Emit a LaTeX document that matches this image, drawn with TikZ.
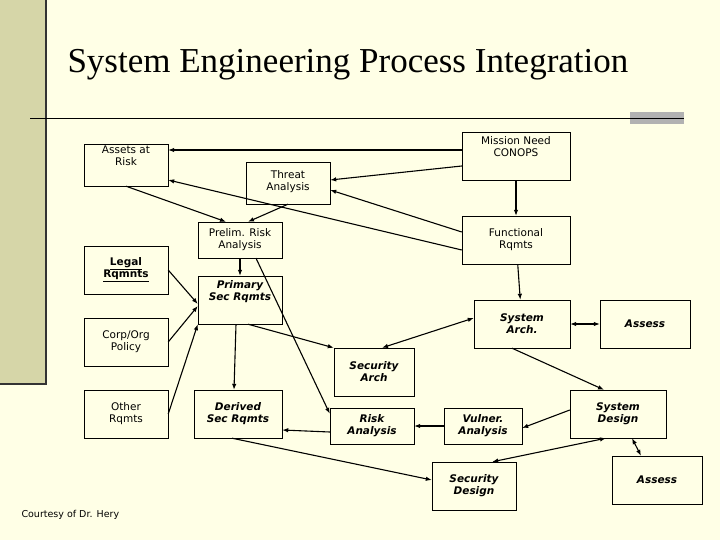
\documentclass[tikz,border=0pt]{standalone}
\usepackage{fontspec}
\setmainfont{DejaVu Sans}
\newfontfamily\titlefont{Liberation Serif}
\usetikzlibrary{arrows.meta}
\definecolor{cream}{HTML}{FFFFE6}
\definecolor{olive}{HTML}{D6D6A8}
\tikzset{blk/.style={draw, fill=cream, align=center, font=\fontsize{10.5}{12}\selectfont, inner sep=0pt},
         bblk/.style={blk, font=\fontsize{10.5}{12}\selectfont\bfseries\itshape},
         line/.style={line width=1.1pt, -{Latex[length=6pt,width=4.5pt]}},
         dline/.style={line width=1.1pt, {Latex[length=6pt,width=4.5pt]}-{Latex[length=6pt,width=4.5pt]}}}

\begin{document}
\begin{tikzpicture}[x=1pt,y=-1pt]
\fill[cream] (0,0) rectangle (720,540);
\useasboundingbox (0,0) rectangle (720,540);
\fill[olive] (0,0) rectangle (46,384);
\draw[line width=1.5pt, black!80] (46,0) -- (46,384) -- (0,384);
\fill[black!30] (630,112) rectangle (684,124);
\draw[thick] (30,118) -- (684,118);
\node[font=\titlefont\fontsize{35}{38}\selectfont, anchor=west] (title) at (64,65) {System Engineering Process Integration};

\node (assets) [blk, minimum width=84, minimum height=42] at (126,165) {Assets at\\Risk\\[7pt]};
\node (threat) [blk, minimum width=84, minimum height=42] at (288,183) {\\[-6pt]Threat\\Analysis};
\node (mission) [blk, minimum width=108, minimum height=48] at (516,156) {Mission Need\\CONOPS\\[6pt]};
\node (prelim) [blk, minimum width=84, minimum height=36] at (240,240) {Prelim. Risk\\Analysis};
\node (func) [blk, minimum width=108, minimum height=48] at (516,240) {Functional\\Rqmts};
\node (legal) [blk, minimum width=84, minimum height=48, font=\fontsize{10.5}{12}\selectfont\bfseries] at (126,270) {\underline{Legal}\\\underline{Rqmnts}};
\node (primary) [bblk, minimum width=84, minimum height=48] at (240,300) {Primary\\Sec Rqmts\\[6pt]};
\node (sysarch) [bblk, minimum width=96, minimum height=48] at (522,324) {System\\Arch.};
\node (assess) [bblk, minimum width=90, minimum height=48] at (645,324) {Assess};
\node (corp) [blk, minimum width=84, minimum height=48] at (126,342) {Corp/Org\\Policy};
\node (secarch) [bblk, minimum width=80, minimum height=48] at (374,372) {Security\\Arch};
\node (other) [blk, minimum width=84, minimum height=48] at (126,414) {Other\\Rqmts};
\node (derived) [bblk, minimum width=88, minimum height=48] at (238,414) {Derived\\Sec Rqmts};
\node (risk) [bblk, minimum width=84, minimum height=36] at (372,426) {Risk\\Analysis};
\node (vulner) [bblk, minimum width=78, minimum height=36] at (483,426) {Vulner.\\Analysis};
\node (sysdes) [bblk, minimum width=96, minimum height=48] at (618,414) {System\\Design};
\node (secdes) [bblk, minimum width=84, minimum height=48] at (474,486) {Security\\Design};
\node (assess2) [bblk, minimum width=90, minimum height=48] at (657,480) {Assess};
\node (credit) [font=\fontsize{9.5}{11}\selectfont, anchor=west] at (18,515) {Courtesy of Dr. Hery};

% upper part
\draw [line] ([yshift=6pt]mission.west) -- ([yshift=15pt]assets.east);
\draw [line] ([yshift=-10pt]mission.west) -- ([yshift=3pt]threat.east);
\draw [line] ([yshift=8pt]func.west) -- ([yshift=-7pt]threat.east);
\draw [line] ([yshift=-10pt]func.west) -- ([yshift=-15pt]assets.east);
\draw [line] (mission) -- (func);
\draw [line] (assets.south) -- ([xshift=-14pt]prelim.north);
\draw [line] (threat.south) -- ([xshift=8pt]prelim.north);
\draw [line] (prelim) -- (primary);
\draw [line] ([xshift=16pt]prelim.south) -- ([yshift=-6pt]risk.north west);
% inputs
\draw [line] (legal.east) -- ([yshift=-4pt]primary.west);
\draw [line] (corp.east) -- ([yshift=-6pt]primary.west);
\draw [line] (other.east) -- (primary.south west);
\draw [line] ([xshift=-4pt]primary.south) -- ([xshift=-4pt]derived.north);
\draw [line] ([xshift=8pt]primary.south) -- (secarch.north west);
% lower part
\draw [line] (func) -- (sysarch);
\draw [dline] ([xshift=8pt]secarch.north) -- ([yshift=6pt]sysarch.west);
\draw [dline] (sysarch) -- (assess);
\draw [line] ([xshift=-10pt]sysarch.south) -- ([xshift=-14pt]sysdes.north);
\draw [line] ([yshift=4pt]sysdes.west) -- ([yshift=-2pt]vulner.east);
\draw [line] (vulner) -- (risk);
\draw [line] ([yshift=-6pt]risk.west) -- ([yshift=-16pt]derived.east);
\draw [line] ([xshift=-6pt]derived.south) -- ([yshift=6pt]secdes.west);
\draw [dline] ([xshift=-24pt]secdes.north east) -- ([xshift=-12pt]sysdes.south);
\draw [dline] ([xshift=14pt]sysdes.south) -- ([xshift=-16pt]assess2.north);
\end{tikzpicture}
\end{document}
